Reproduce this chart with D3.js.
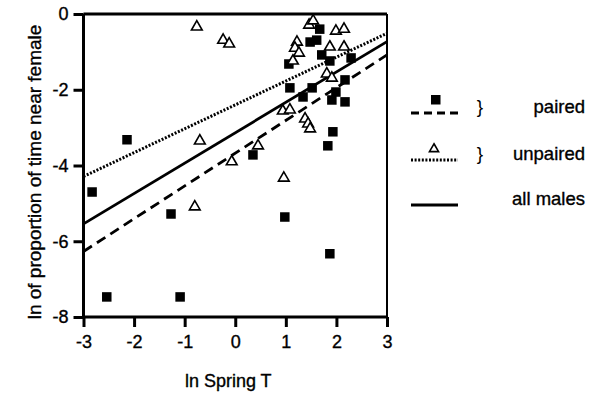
<!DOCTYPE html>
<html><head><meta charset="utf-8">
<script src="https://cdn.jsdelivr.net/npm/d3@7"></script>
<style>body{margin:0;background:#fff}svg{display:block}text{font-family:"Liberation Sans",Arial,sans-serif;fill:#000;stroke:#000;stroke-width:0.35px}</style>
</head><body>
<svg id="c" width="599" height="393"></svg>
<script>
// paired males (filled squares): [ln Spring T, ln proportion]
const pairedX = [-2.83,-2.14,-2.54,-1.09,-1.27,0.98,1.87,0.35,1.67,1.48,1.61,1.06,1.71,1.87,2.29,1.08,1.34,1.52,1.91,2.17,2.17,1.99,1.93,1.83];
const pairedY = [-4.70,-3.32,-7.47,-7.47,-5.28,-5.36,-6.33,-3.72,-0.40,-0.74,-0.69,-1.32,-1.08,-1.24,-1.16,-1.95,-2.19,-1.95,-2.27,-1.74,-2.32,-2.06,-3.11,-3.48];
// unpaired males (open triangles)
const unpairedX = [-0.76,-0.24,-0.12,-0.70,-0.80,0.45,-0.07,0.96,0.94,1.08,1.38,1.44,1.48,1.81,1.91,1.46,1.54,1.99,2.15,1.22,1.18,1.26,1.14,1.87,2.15];
const unpairedY = [-0.34,-0.69,-0.79,-3.35,-5.09,-3.48,-3.90,-4.33,-2.56,-2.53,-2.77,-2.90,-3.03,-1.58,-1.69,-0.29,-0.18,-0.45,-0.40,-0.74,-0.90,-1.03,-1.24,-0.87,-0.87];
// regression lines: value at x=-3 and x=3
const fitNames = ["paired","unpaired","all males"];
const fitStart = [-6.27,-4.29,-5.54];
const fitEnd = [-1.08,-0.51,-0.73];
const xTicks = [-3,-2,-1,0,1,2,3];
const yTicks = [0,-2,-4,-6,-8];

const svg = d3.select("#c");
const L=83.5, R=387, T=14, B=317;
const x = d3.scaleLinear().domain([-3,3]).range([L,R]);
const y = d3.scaleLinear().domain([-8,0]).range([B,T]);
const dashes = {"paired":"10,6","unpaired":"2,1.6","all males":null};
const fmt = d => String(d);

// frame top/right
svg.append("line").attr("x1",L).attr("x2",R).attr("y1",T).attr("y2",T).attr("stroke","#000").attr("stroke-width",3);
svg.append("line").attr("x1",R).attr("x2",R).attr("y1",T).attr("y2",B).attr("stroke","#000").attr("stroke-width",2);

const xa = svg.append("g").attr("transform",`translate(0,${B})`).call(d3.axisBottom(x).tickValues(xTicks).tickSize(10).tickPadding(8).tickFormat(fmt));
const ya = svg.append("g").attr("transform",`translate(${L},0)`).call(d3.axisLeft(y).tickValues(yTicks).tickSize(10).tickPadding(5).tickFormat(fmt));
[xa,ya].forEach(a=>{
  a.select(".domain").attr("stroke","#000").attr("stroke-width",3);
  a.selectAll(".tick line").attr("stroke","#000").attr("stroke-width",3);
  a.selectAll(".tick text").style("font-size","18px").attr("font-family","Liberation Sans, Arial, sans-serif");
});
xa.select(".domain").attr("d",`M${L},0H${R}`);
ya.select(".domain").attr("d",`M0,${T}V${B}`);

// fit lines
fitNames.forEach((n,i)=>{
  svg.append("line").attr("x1",x(-3)).attr("y1",y(fitStart[i])).attr("x2",x(3)).attr("y2",y(fitEnd[i]))
    .attr("stroke","#000").attr("stroke-width",n==="unpaired"?3:2.8).attr("stroke-dasharray",dashes[n]);
});

// points
const sq=9.5;
svg.append("g").selectAll("rect").data(d3.range(pairedX.length)).join("rect")
  .attr("x",i=>x(pairedX[i])-sq/2).attr("y",i=>y(pairedY[i])-sq/2).attr("width",sq).attr("height",sq).attr("fill","#000");
const tri = d3.symbol().type(d3.symbolTriangle).size(50);
svg.append("g").selectAll("path").data(d3.range(unpairedX.length)).join("path")
  .attr("d",tri).attr("transform",i=>`translate(${x(unpairedX[i])},${y(unpairedY[i])})`)
  .attr("fill","#fff").attr("stroke","#000").attr("stroke-width",1.6);

// axis titles
svg.append("text").attr("x",(L+R)/2-7).attr("y",387).attr("text-anchor","middle").style("font-size","18px").text("ln Spring T");
svg.append("text").attr("transform","translate(41,172) rotate(-90)").attr("text-anchor","middle").style("font-size","19px").text("ln of proportion of time near female");

// legend
const lg = svg.append("g");
const rows = [{n:"paired",y:113,mk:"sq"},{n:"unpaired",y:160,mk:"tri"},{n:"all males",y:205,mk:null}];
rows.forEach(r=>{
  lg.append("line").attr("x1",411).attr("x2",458).attr("y1",r.y).attr("y2",r.y).attr("stroke","#000")
    .attr("stroke-width",r.n==="unpaired"?3:2.8).attr("stroke-dasharray",r.n==="paired"?"8,5":dashes[r.n]);
  if(r.mk==="sq") lg.append("rect").attr("x",431).attr("y",r.y-18).attr("width",sq).attr("height",sq).attr("fill","#000");
  if(r.mk==="tri") lg.append("path").attr("d",d3.symbol().type(d3.symbolTriangle).size(36)).attr("transform",`translate(434,${r.y-11})`).attr("fill","#fff").attr("stroke","#000").attr("stroke-width",1.6);
  if(r.mk) lg.append("text").attr("x",480).attr("y",r.y).attr("text-anchor","middle").style("font-size","19px").style("stroke-width","0").text("}");
  lg.append("text").attr("x",585).attr("y",r.y).attr("text-anchor","end").style("font-size","18.5px").text(r.n);
});
</script>
</body></html>
